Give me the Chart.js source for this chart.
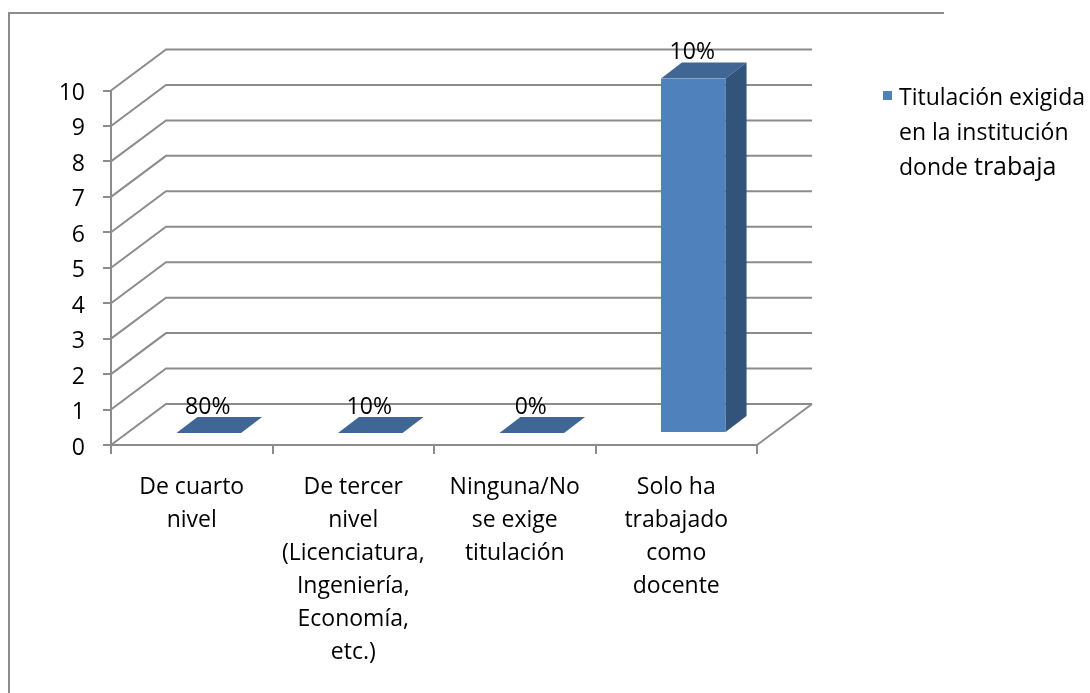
<!DOCTYPE html>
<html>
<head>
<meta charset="utf-8">
<script src="https://cdn.jsdelivr.net/npm/chart.js@4"></script>
<style>
    html, body { margin: 0; background: #fff; overflow: hidden; }
    #wrap { position: relative; width: 1090px; height: 693px; }
    #frame { position: absolute; left: 8px; top: 12px; width: 936px; height: 681px;
             border-top: 2px solid #8c8c8c; border-left: 2px solid #8c8c8c; box-sizing: border-box; }
    canvas { position: absolute; left: 0; top: 0; }
</style>
</head>
<body>
<div id="wrap">
    <div id="frame"></div>
    <canvas id="chart" width="1090" height="693"></canvas>
</div>
<script>
const categories = [
    ['De cuarto', 'nivel'],
    ['De tercer', 'nivel', '(Licenciatura,', 'Ingeniería,', 'Economía,', 'etc.)'],
    ['Ninguna/No', 'se exige', 'titulación'],
    ['Solo ha', 'trabajado', 'como', 'docente']
];
const seriesValues = [0, 0, 0, 10];
const valueLabels = ['80%', '10%', '0%', '10%'];
const legendLines = ['Titulación exigida', 'en la institución', 'donde '];
const legendBigWord = 'trabaja'; // this word is a bit larger in the original

const fontName = '"Open Sans", Lato, sans-serif';
const fontSize = 23;
const axisGray = '#8c8c8c';

// 3D look: back wall lines, then the bar sides on top of the library's own bars
const wall = { dx: 55, dy: -41 };
const barShift = { dx: 17, dy: -12 };
const barDepth = { dx: 21, dy: -16 };

const wallPlugin = {
    id: 'wall',
    beforeDatasetsDraw(chart) {
        const { ctx, chartArea: a, scales } = chart;
        ctx.save();
        ctx.strokeStyle = axisGray;
        ctx.lineWidth = 2;
        scales.y.ticks.forEach(t => {
            const y = scales.y.getPixelForValue(t.value);
            ctx.beginPath();
            ctx.moveTo(a.left, y);
            ctx.lineTo(a.left + wall.dx, y + wall.dy);
            ctx.lineTo(a.right + wall.dx, y + wall.dy);
            ctx.stroke();
        });
        ctx.beginPath();
        ctx.moveTo(a.right, a.bottom);
        ctx.lineTo(a.right + wall.dx, a.bottom + wall.dy);
        ctx.stroke();
        ctx.restore();
    },
    beforeDatasetDraw(chart) {
        chart.ctx.save();
        chart.ctx.translate(barShift.dx, barShift.dy);
    },
    afterDatasetDraw(chart, args) {
        const ctx = chart.ctx;
        chart.getDatasetMeta(args.index).data.forEach(bar => {
            const l = bar.x - bar.width / 2, r = bar.x + bar.width / 2;
            ctx.fillStyle = '#3f6694';
            ctx.beginPath();
            ctx.moveTo(l, bar.y);
            ctx.lineTo(l + barDepth.dx, bar.y + barDepth.dy);
            ctx.lineTo(r + barDepth.dx, bar.y + barDepth.dy);
            ctx.lineTo(r, bar.y);
            ctx.closePath();
            ctx.fill();
            ctx.fillStyle = '#32547b';
            ctx.beginPath();
            ctx.moveTo(r, bar.y);
            ctx.lineTo(r + barDepth.dx, bar.y + barDepth.dy);
            ctx.lineTo(r + barDepth.dx, bar.base + barDepth.dy);
            ctx.lineTo(r, bar.base);
            ctx.closePath();
            ctx.fill();
        });
        ctx.restore();
    },
    afterDatasetsDraw(chart) {
        const ctx = chart.ctx;
        ctx.save();
        ctx.font = fontSize + 'px ' + fontName;
        ctx.fillStyle = '#000';
        ctx.textAlign = 'center';
        ctx.textBaseline = 'middle';
        chart.getDatasetMeta(0).data.forEach((bar, i) => {
            ctx.fillText(valueLabels[i], bar.x + barShift.dx - 1, bar.y + barShift.dy - 26);
        });
        // legend
        ctx.fillStyle = '#4f81bd';
        ctx.fillRect(883, 91, 9, 9);
        ctx.fillStyle = '#000';
        ctx.textAlign = 'left';
        legendLines.forEach((line, i) => ctx.fillText(line, 899, 98 + i * 35));
        const wordX = 899 + ctx.measureText(legendLines[2]).width;
        ctx.font = '25px ' + fontName;
        ctx.fillText(legendBigWord, wordX, 98 + 2 * 35);
        ctx.restore();
    }
};

new Chart(document.getElementById('chart'), {
    type: 'bar',
    data: {
        labels: categories,
        datasets: [{
            label: legendLines.join(' ') + legendBigWord,
            data: seriesValues,
            backgroundColor: '#4f81bd',
            categoryPercentage: 0.4,
            barPercentage: 1
        }]
    },
    options: {
        responsive: false,
        animation: false,
        layout: { padding: { left: 0, right: 333, top: 90.5, bottom: 0 } },
        plugins: { legend: { display: false }, tooltip: { enabled: false } },
        scales: {
            x: {
                afterFit: s => { s.height = 248; },
                grid: { drawOnChartArea: false, color: axisGray, lineWidth: 2, tickLength: 9 },
                border: { color: axisGray, width: 2 },
                ticks: {
                    color: '#000', maxRotation: 0, autoSkip: false, padding: 17,
                    font: { family: fontName, size: fontSize, lineHeight: 1.435 }
                }
            },
            y: {
                min: 0,
                max: 10,
                afterFit: s => { s.width = 111; },
                grid: { drawOnChartArea: false, color: axisGray, lineWidth: 2, tickLength: 8 },
                border: { color: axisGray, width: 2 },
                ticks: {
                    color: '#000', stepSize: 1, padding: 18, labelOffset: 3,
                    font: { family: fontName, size: fontSize }
                }
            }
        }
    },
    plugins: [wallPlugin]
});
</script>
</body>
</html>
